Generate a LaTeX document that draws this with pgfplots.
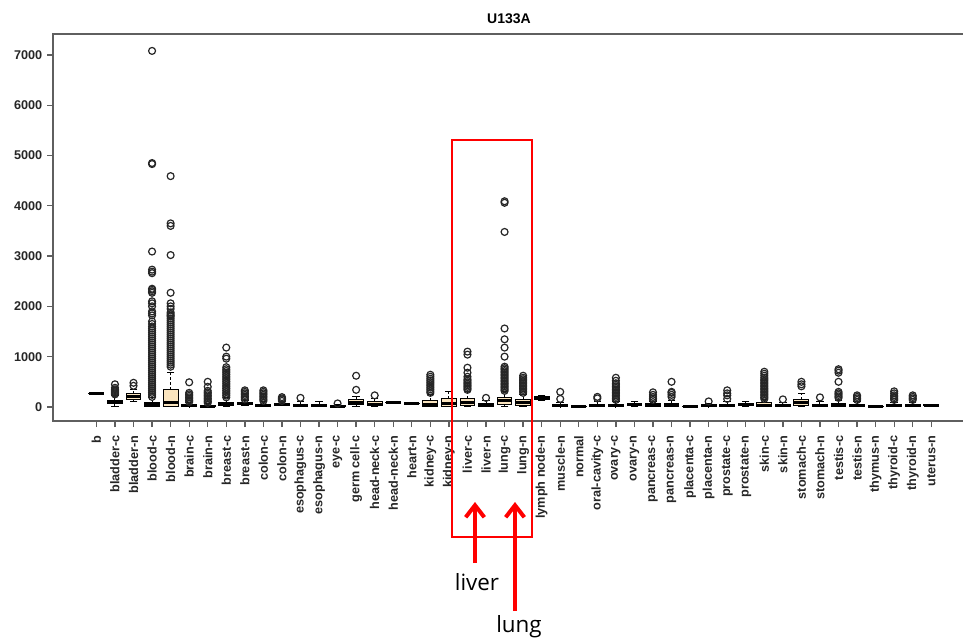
\documentclass[border=0pt]{standalone}
\usepackage{pgfplots}
\pgfplotsset{compat=1.18}
\usepackage{pgfplotstable}
\usetikzlibrary{arrows.meta}
\usepackage{fontspec}
\setmainfont{Liberation Sans}
\newfontfamily\opensans{Open Sans}

\definecolor{boxtan}{RGB}{250,228,190}
\definecolor{framegray}{RGB}{95,95,95}

% five-number summaries per category (x = position)
\pgfplotstableread{
x lw q1 med q3 uw
1 250 258 265 270 275
2 5 70 100 130 220
3 110 150 200 260 340
4 0 15 40 80 180
5 0 15 80 350 680
6 0 5 20 40 90
7 -20 2 12 30 70
8 0 30 55 90 180
9 20 45 65 85 130
10 0 10 30 55 110
11 20 35 50 70 100
12 0 10 30 50 100
13 0 15 30 50 105
14 0 2 10 20 40
15 10 45 85 150 200
16 0 20 45 100 160
17 80 88 92 96 100
18 50 60 66 72 80
19 0 10 40 130 250
20 0 15 70 170 300
21 0 25 80 170 300
22 0 15 35 70 120
23 0 50 120 190 300
24 0 30 80 150 250
25 120 140 170 200 230
26 0 5 20 40 80
27 5 8 12 16 20
28 0 10 30 55 110
29 0 5 25 50 100
30 0 20 40 60 100
31 0 10 30 60 110
32 0 15 40 70 120
33 0 3 8 12 20
34 0 5 20 40 70
35 0 10 30 55 100
36 0 20 40 60 100
37 0 10 30 80 150
38 0 10 30 50 90
39 0 30 80 150 260
40 0 10 30 50 100
41 0 15 40 65 120
42 0 10 30 50 100
43 0 5 12 18 30
44 0 10 25 45 90
45 0 10 25 45 80
46 10 20 30 40 50
}\stats

\pgfplotsset{
  bxs/.style={draw=black, line width=0.75pt, fill=boxtan, mark=none, forget plot},
  whisk/.style={draw=none, mark=none, forget plot,
    error bars/y explicit, error bars/error mark=none,
    error bars/error bar style={draw=black, line width=0.75pt, dash pattern=on 2pt off 1.5pt}},
  capst/.style={only marks, mark=-, mark size=2.8pt, forget plot,
    mark options={black, solid, line width=0.75pt}},
}

\begin{document}
\begin{tikzpicture}
\begin{axis}[
    at={(39.75pt,-315.75pt)}, anchor=south west,
    scale only axis, width=682.5pt, height=290.25pt,
    xmin=-1.34, xmax=47.71, ymin=-280, ymax=7416,
    clip=false,
    axis line style={draw=none},
    tick align=outside, major tick length=4.5pt,
    tick style={draw=framegray, line width=1pt},
    xtick={1,...,46}, xtick pos=bottom, ytick pos=left,
    ytick={0,1000,2000,3000,4000,5000,6000,7000},
    /pgf/number format/assume math mode=true,
    /pgf/number format/set thousands separator={},
    tick label style={font=\bfseries\fontsize{9.5}{10}\selectfont, text=black!85},
    xticklabel style={rotate=90, anchor=east},
    xticklabel shift=3pt,
    xticklabels={b, bladder-c, bladder-n, blood-c, blood-n, brain-c, brain-n,
      breast-c, breast-n, colon-c, colon-n, esophagus-c, esophagus-n, eye-c,
      germ cell-c, head-neck-c, head-neck-n, heart-n, kidney-c, kidney-n,
      liver-c, liver-n, lung-c, lung-n, lymph node-n, muscle-n, normal,
      oral-cavity-c, ovary-c, ovary-n, pancreas-c, pancreas-n, placenta-c,
      placenta-n, prostate-c, prostate-n, skin-c, skin-n, stomach-c, stomach-n,
      testis-c, testis-n, thymus-n, thyroid-c, thyroid-n, uterus-n},
  ]
% whiskers: dashed line from the box to the cap
\addplot[whisk, error bars/y dir=plus]
  table[x=x, y=q3, y error expr=\thisrow{uw}-\thisrow{q3}] {\stats};
\addplot[whisk, error bars/y dir=minus]
  table[x=x, y=q1, y error expr=\thisrow{q1}-\thisrow{lw}] {\stats};
\addplot[capst] table[x=x, y=uw] {\stats};
\addplot[capst] table[x=x, y=lw] {\stats};
% boxes (lower to upper quartile, 0.8 wide)
\addplot[bxs] coordinates {(0.6,258)(1.4,258)(1.4,270)(0.6,270)} --cycle;
\addplot[bxs] coordinates {(1.6,70)(2.4,70)(2.4,130)(1.6,130)} --cycle;
\addplot[bxs] coordinates {(2.6,150)(3.4,150)(3.4,260)(2.6,260)} --cycle;
\addplot[bxs] coordinates {(3.6,15)(4.4,15)(4.4,80)(3.6,80)} --cycle;
\addplot[bxs] coordinates {(4.6,15)(5.4,15)(5.4,350)(4.6,350)} --cycle;
\addplot[bxs] coordinates {(5.6,5)(6.4,5)(6.4,40)(5.6,40)} --cycle;
\addplot[bxs] coordinates {(6.6,2)(7.4,2)(7.4,30)(6.6,30)} --cycle;
\addplot[bxs] coordinates {(7.6,30)(8.4,30)(8.4,90)(7.6,90)} --cycle;
\addplot[bxs] coordinates {(8.6,45)(9.4,45)(9.4,85)(8.6,85)} --cycle;
\addplot[bxs] coordinates {(9.6,10)(10.4,10)(10.4,55)(9.6,55)} --cycle;
\addplot[bxs] coordinates {(10.6,35)(11.4,35)(11.4,70)(10.6,70)} --cycle;
\addplot[bxs] coordinates {(11.6,10)(12.4,10)(12.4,50)(11.6,50)} --cycle;
\addplot[bxs] coordinates {(12.6,15)(13.4,15)(13.4,50)(12.6,50)} --cycle;
\addplot[bxs] coordinates {(13.6,2)(14.4,2)(14.4,20)(13.6,20)} --cycle;
\addplot[bxs] coordinates {(14.6,45)(15.4,45)(15.4,150)(14.6,150)} --cycle;
\addplot[bxs] coordinates {(15.6,20)(16.4,20)(16.4,100)(15.6,100)} --cycle;
\addplot[bxs] coordinates {(16.6,88)(17.4,88)(17.4,96)(16.6,96)} --cycle;
\addplot[bxs] coordinates {(17.6,60)(18.4,60)(18.4,72)(17.6,72)} --cycle;
\addplot[bxs] coordinates {(18.6,10)(19.4,10)(19.4,130)(18.6,130)} --cycle;
\addplot[bxs] coordinates {(19.6,15)(20.4,15)(20.4,170)(19.6,170)} --cycle;
\addplot[bxs] coordinates {(20.6,25)(21.4,25)(21.4,170)(20.6,170)} --cycle;
\addplot[bxs] coordinates {(21.6,15)(22.4,15)(22.4,70)(21.6,70)} --cycle;
\addplot[bxs] coordinates {(22.6,50)(23.4,50)(23.4,190)(22.6,190)} --cycle;
\addplot[bxs] coordinates {(23.6,30)(24.4,30)(24.4,150)(23.6,150)} --cycle;
\addplot[bxs] coordinates {(24.6,140)(25.4,140)(25.4,200)(24.6,200)} --cycle;
\addplot[bxs] coordinates {(25.6,5)(26.4,5)(26.4,40)(25.6,40)} --cycle;
\addplot[bxs] coordinates {(26.6,8)(27.4,8)(27.4,16)(26.6,16)} --cycle;
\addplot[bxs] coordinates {(27.6,10)(28.4,10)(28.4,55)(27.6,55)} --cycle;
\addplot[bxs] coordinates {(28.6,5)(29.4,5)(29.4,50)(28.6,50)} --cycle;
\addplot[bxs] coordinates {(29.6,20)(30.4,20)(30.4,60)(29.6,60)} --cycle;
\addplot[bxs] coordinates {(30.6,10)(31.4,10)(31.4,60)(30.6,60)} --cycle;
\addplot[bxs] coordinates {(31.6,15)(32.4,15)(32.4,70)(31.6,70)} --cycle;
\addplot[bxs] coordinates {(32.6,3)(33.4,3)(33.4,12)(32.6,12)} --cycle;
\addplot[bxs] coordinates {(33.6,5)(34.4,5)(34.4,40)(33.6,40)} --cycle;
\addplot[bxs] coordinates {(34.6,10)(35.4,10)(35.4,55)(34.6,55)} --cycle;
\addplot[bxs] coordinates {(35.6,20)(36.4,20)(36.4,60)(35.6,60)} --cycle;
\addplot[bxs] coordinates {(36.6,10)(37.4,10)(37.4,80)(36.6,80)} --cycle;
\addplot[bxs] coordinates {(37.6,10)(38.4,10)(38.4,50)(37.6,50)} --cycle;
\addplot[bxs] coordinates {(38.6,30)(39.4,30)(39.4,150)(38.6,150)} --cycle;
\addplot[bxs] coordinates {(39.6,10)(40.4,10)(40.4,50)(39.6,50)} --cycle;
\addplot[bxs] coordinates {(40.6,15)(41.4,15)(41.4,65)(40.6,65)} --cycle;
\addplot[bxs] coordinates {(41.6,10)(42.4,10)(42.4,50)(41.6,50)} --cycle;
\addplot[bxs] coordinates {(42.6,5)(43.4,5)(43.4,18)(42.6,18)} --cycle;
\addplot[bxs] coordinates {(43.6,10)(44.4,10)(44.4,45)(43.6,45)} --cycle;
\addplot[bxs] coordinates {(44.6,10)(45.4,10)(45.4,45)(44.6,45)} --cycle;
\addplot[bxs] coordinates {(45.6,20)(46.4,20)(46.4,40)(45.6,40)} --cycle;
% medians
\addplot[only marks, mark=-, mark size=5.57pt, mark options={black, solid, line width=2.2pt}, forget plot]
  table[x=x, y=med] {\stats};
% outliers
\addplot[only marks, mark=o, mark size=2.6pt, mark options={black!85, line width=0.9pt}] coordinates {
 (2,250)(2,270)(2,290)(2,310)(2,330)(2,350)(2,380)(2,450)
 (3,420)(3,480)
 (4,200)(4,240)(4,280)(4,320)(4,360)(4,400)(4,440)(4,480)(4,520)(4,560)(4,600)(4,640)
 (4,680)(4,720)(4,760)(4,800)(4,840)(4,880)(4,920)(4,960)(4,1000)(4,1040)(4,1080)(4,1120)
 (4,1160)(4,1200)(4,1240)(4,1280)(4,1320)(4,1360)(4,1400)(4,1440)(4,1480)(4,1520)(4,1560)
 (4,1600)(4,1650)(4,1700)(4,1820)(4,1860)(4,1900)(4,2000)(4,2060)(4,2100)(4,2270)(4,2300)
 (4,2330)(4,2350)(4,2660)(4,2690)(4,2730)(4,3090)(4,4830)(4,4850)(4,7080)
 (5,800)(5,840)(5,880)(5,920)(5,960)(5,1000)(5,1040)(5,1080)(5,1120)(5,1160)(5,1200)(5,1240)
 (5,1280)(5,1320)(5,1360)(5,1400)(5,1440)(5,1480)(5,1520)(5,1560)(5,1600)(5,1640)(5,1680)
 (5,1720)(5,1760)(5,1800)(5,1820)(5,1850)(5,1880)(5,1950)(5,2000)(5,2060)(5,2270)(5,3020)
 (5,3600)(5,3650)(5,4590)
 (6,100)(6,130)(6,160)(6,190)(6,220)(6,250)(6,280)(6,490)
 (7,80)(7,110)(7,140)(7,170)(7,200)(7,230)(7,260)(7,290)(7,320)(7,400)(7,500)
 (8,190)(8,225)(8,260)(8,295)(8,330)(8,365)(8,400)(8,435)(8,470)(8,505)(8,540)(8,575)
 (8,610)(8,645)(8,680)(8,715)(8,750)(8,790)(8,960)(8,1000)(8,1180)
 (9,150)(9,180)(9,210)(9,240)(9,270)(9,300)(9,330)
 (10,120)(10,150)(10,180)(10,210)(10,240)(10,270)(10,300)(10,330)
 (11,120)(11,150)(11,170)(11,195)
 (12,180) (14,70) (15,340)(15,620) (16,230)
 (19,280)(19,315)(19,350)(19,385)(19,420)(19,455)(19,490)(19,525)(19,560)(19,600)(19,640)
 (21,340)(21,370)(21,400)(21,430)(21,460)(21,490)(21,520)(21,550)(21,600)(21,680)(21,780)
 (21,1040)(21,1100)
 (22,180)
 (23,320)(23,350)(23,380)(23,410)(23,440)(23,470)(23,500)(23,530)(23,560)(23,590)(23,620)
 (23,650)(23,680)(23,710)(23,740)(23,770)(23,800)(23,1000)(23,1180)(23,1345)(23,1560)
 (23,3480)(23,4060)(23,4090)
 (24,280)(24,310)(24,340)(24,370)(24,400)(24,430)(24,460)(24,490)(24,520)(24,550)(24,580)(24,620)
 (26,160)(26,300)
 (28,170)(28,200)
 (29,140)(29,170)(29,200)(29,230)(29,260)(29,290)(29,320)(29,350)(29,380)(29,410)(29,440)
 (29,470)(29,520)(29,580)
 (31,140)(31,170)(31,200)(31,240)(31,290)
 (32,200)(32,240)(32,280)(32,300)(32,500)
 (34,110)
 (35,160)(35,230)(35,270)(35,330)
 (37,160)(37,190)(37,220)(37,250)(37,280)(37,310)(37,340)(37,370)(37,400)(37,430)(37,460)
 (37,490)(37,520)(37,550)(37,580)(37,620)(37,660)(37,700)
 (38,150)
 (39,410)(39,450)(39,500)
 (40,190)
 (41,180)(41,210)(41,240)(41,270)(41,300)(41,500)(41,680)(41,720)(41,750)
 (42,140)(42,170)(42,200)(42,230)
 (44,140)(44,170)(44,200)(44,230)(44,270)(44,310)
 (45,140)(45,170)(45,200)(45,230)
};
% frame: the right side is cut off in the reference
\draw[framegray, line width=1.1pt] (rel axis cs:1,0) -- (rel axis cs:0,0) -- (rel axis cs:0,1) -- (rel axis cs:1,1);
\end{axis}

% title and red annotations, in pixel units of the reference (y down)
\begin{scope}[x=0.75pt, y=-0.75pt]
  \node[font=\bfseries\fontsize{10.5}{12}\selectfont] at (509,19) {U133A};
  \draw[red, line width=1.5pt] (452,140) rectangle (532,537);
  \draw[red, line width=3pt, -{Straight Barb[width=14pt,length=9pt,line width=3pt]}] (475,563) -- (475,502);
  \draw[red, line width=3pt, -{Straight Barb[width=14pt,length=9pt,line width=3pt]}] (515,611) -- (515,502);
  \node[anchor=base, font=\opensans\fontsize{16.8}{18}\selectfont] at (477,590) {liver};
  \node[anchor=base, font=\opensans\fontsize{16.8}{18}\selectfont] at (519,632) {lung};
  \pgfresetboundingbox
  \path[use as bounding box] (0,0) rectangle (963,640);
\end{scope}
\end{tikzpicture}
\end{document}
